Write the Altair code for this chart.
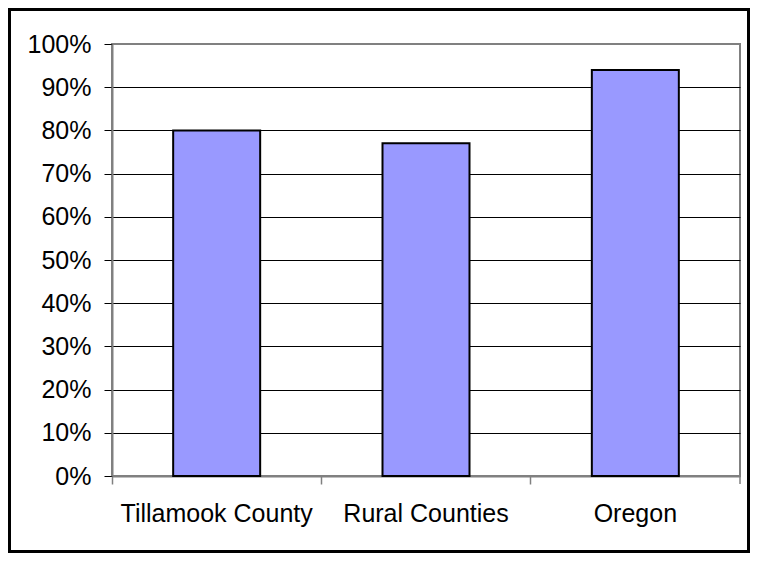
import altair as alt
import pandas as pd

categories = ["Tillamook County", "Rural Counties", "Oregon"]
values = [0.80, 0.77, 0.94]
y_ticks = [0, 0.1, 0.2, 0.3, 0.4, 0.5, 0.6, 0.7, 0.8, 0.9, 1.0]

df = pd.DataFrame({"category": categories, "value": values})

W, H = 628, 432
PL, PT, PR, PB = 104, 36, 10, 77
FONT = "Liberation Sans"
FS = 25

bars = alt.Chart(df).mark_bar(
    size=87, color="#9999FF", stroke="black", strokeWidth=2
).encode(
    x=alt.X(
        "category:N",
        sort=None,
        title=None,
        scale=alt.Scale(paddingInner=0, paddingOuter=0),
        axis=alt.Axis(
            labelAngle=0,
            bandPosition=0,
            tickSize=8,
            tickColor="#808080",
            tickWidth=1.5,
            domainColor="#808080",
            domainWidth=2,
            labelPadding=17,
            labelLimit=0,
            labelFont=FONT,
            labelFontSize=FS,
            labelColor="black",
            grid=False,
        ),
    ),
    y=alt.Y(
        "value:Q",
        title=None,
        scale=alt.Scale(domain=[0, 1], nice=False),
        axis=alt.Axis(
            values=y_ticks,
            format=".0%",
            tickSize=8,
            tickColor="black",
            tickWidth=1,
            domainColor="#808080",
            domainWidth=2,
            labelPadding=13,
            labelFont=FONT,
            labelFontSize=FS,
            labelColor="black",
            grid=True,
            gridColor="black",
            gridWidth=1,
            gridOpacity={"condition": {"test": "datum.value >= 1 || datum.value <= 0", "value": 0}, "value": 1},
        ),
    ),
)

end_tick = alt.Chart(alt.Data(values=[{}])).mark_rule(
    color="#808080", strokeWidth=1.5
).encode(
    x=alt.value(W), y=alt.value(H), y2=alt.value(H + 8)
)

frame = alt.Chart(alt.Data(values=[{}])).mark_rect(
    fillOpacity=0, stroke="black", strokeWidth=3
).encode(
    x=alt.value(-PL + 1.5),
    x2=alt.value(W + PR - 1.5),
    y=alt.value(-PT + 1.5),
    y2=alt.value(H + PB - 1.5),
)

chart = alt.layer(bars, end_tick, frame).properties(
    width=W,
    height=H,
    autosize=alt.AutoSizeParams(type="none"),
    padding={"left": PL, "top": PT, "right": PR, "bottom": PB},
    background="white",
).configure_view(stroke="#808080", strokeWidth=2)

chart.save("out.html", embed_options={"renderer": "svg", "actions": False})
